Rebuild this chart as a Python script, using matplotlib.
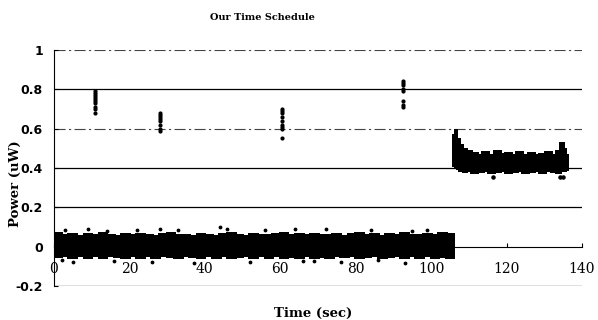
import numpy as np
import matplotlib
matplotlib.use('Agg')
import matplotlib.pyplot as plt

# dense band 0..106 s (envelope, every 2 s)
band1_t = [1, 3, 5, 7, 9, 11, 13, 15, 17, 19, 21, 23, 25, 27, 29, 31, 33, 35,
           37, 39, 41, 43, 45, 47, 49, 51, 53, 55, 57, 59, 61, 63, 65, 67, 69, 71,
           73, 75, 77, 79, 81, 83, 85, 87, 89, 91, 93, 95, 97, 99, 101, 103, 105]
band1_hi = [0.07, 0.06, 0.068, 0.058, 0.066, 0.06, 0.07, 0.062, 0.058, 0.066, 0.06, 0.068,
            0.062, 0.057, 0.066, 0.07, 0.06, 0.064, 0.058, 0.067, 0.06, 0.055, 0.065, 0.07,
            0.062, 0.058, 0.068, 0.063, 0.06, 0.067, 0.07, 0.062, 0.068, 0.06, 0.066, 0.064,
            0.06, 0.068, 0.058, 0.065, 0.07, 0.062, 0.066, 0.058, 0.068, 0.062, 0.07, 0.064,
            0.06, 0.068, 0.062, 0.07, 0.066]
band1_lo = [-0.055, -0.05, -0.06, -0.048, -0.058, -0.052, -0.06, -0.05, -0.056, -0.06, -0.05, -0.058,
            -0.052, -0.06, -0.05, -0.055, -0.06, -0.048, -0.056, -0.06, -0.05, -0.058, -0.052, -0.06,
            -0.055, -0.05, -0.06, -0.052, -0.058, -0.05, -0.06, -0.055, -0.06, -0.05, -0.058, -0.055,
            -0.06, -0.05, -0.057, -0.052, -0.06, -0.054, -0.05, -0.06, -0.056, -0.05, -0.06, -0.052,
            -0.058, -0.05, -0.06, -0.055, -0.058]

# outlier dots around the band
out1_t = [3, 9, 14, 22, 28, 33, 44, 46, 56, 64, 72, 84, 95, 99,
          2, 5, 16, 26, 37, 52, 66, 69, 76, 86, 93]
out1_v = [0.085, 0.09, 0.08, 0.085, 0.09, 0.085, 0.1, 0.09, 0.085, 0.09, 0.09, 0.085, 0.08, 0.085,
          -0.07, -0.08, -0.075, -0.08, -0.085, -0.08, -0.075, -0.075, -0.08, -0.07, -0.085]

# second band 106..136 s
band2_t = [106.1, 106.6, 107.2, 108, 109, 110, 111.5, 113, 114.5, 116, 117.5, 119, 120.5,
           122, 123.5, 125, 126.5, 128, 129.5, 131, 132.5, 133.8, 134.7, 135.5, 136.1]
band2_hi = [0.57, 0.595, 0.55, 0.52, 0.5, 0.49, 0.48, 0.47, 0.485, 0.47, 0.49, 0.475,
            0.48, 0.47, 0.485, 0.47, 0.48, 0.47, 0.475, 0.485, 0.47, 0.49, 0.53, 0.5, 0.47]
band2_lo = [0.41, 0.40, 0.39, 0.38, 0.375, 0.38, 0.37, 0.375, 0.38, 0.37, 0.375, 0.38,
            0.37, 0.375, 0.38, 0.37, 0.375, 0.38, 0.37, 0.38, 0.375, 0.37, 0.38, 0.38, 0.385]
out2_t = [116.5, 134.2, 135.0]
out2_v = [0.355, 0.355, 0.355]

# sparse spikes
spike_t = [10.9] * 10 + [28.1] * 8 + [60.4] * 9 + [92.5] * 8
spike_v = [0.79, 0.78, 0.77, 0.76, 0.75, 0.74, 0.73, 0.71, 0.70, 0.68,
           0.68, 0.67, 0.66, 0.65, 0.64, 0.62, 0.60, 0.59,
           0.70, 0.69, 0.68, 0.66, 0.64, 0.62, 0.61, 0.60, 0.55,
           0.84, 0.83, 0.82, 0.80, 0.79, 0.74, 0.72, 0.71]

x_ticks = [0, 20, 40, 60, 80, 100, 120, 140]
y_ticks = [-0.2, 0, 0.2, 0.4, 0.6, 0.8, 1.0]
y_labels = ['-0.2', '0', '0.2', '0.4', '0.6', '0.8', '1']

fig = plt.figure(figsize=(5.98, 3.2), dpi=100)
ax = fig.add_axes([54 / 598, 34 / 320, 528 / 598, 236 / 320])

# grid lines (scanned look: some solid, some broken)
for y in y_ticks:
    if y == 0:
        continue
    if y in (1.0, 0.6):
        ax.axhline(y, color='#444444', lw=0.8, ls=(0, (10, 3, 2, 3)), zorder=1)
    else:
        ax.axhline(y, color='black', lw=0.9, zorder=1)

# the dense clouds of samples, drawn as overlapping blocks between the envelopes
b1_lo = np.array(band1_lo)
b1_h = np.array(band1_hi) - b1_lo
ax.bar(band1_t, b1_h, bottom=b1_lo, width=2.6, color='black', edgecolor='none',
       lw=0, snap=False, antialiased=False, zorder=3)
b2_lo = np.array(band2_lo)
b2_h = np.array(band2_hi) - b2_lo
b2_w = np.gradient(np.array(band2_t)) * 1.4
ax.bar(band2_t, b2_h, bottom=b2_lo, width=b2_w, color='black', edgecolor='none',
       lw=0, snap=False, antialiased=False, zorder=3)

ax.scatter(out1_t, out1_v, s=3, color='black', zorder=3)
ax.scatter(out2_t, out2_v, s=5, color='black', zorder=3)
ax.scatter(spike_t, spike_v, s=4, color='black', zorder=3)

ax.set_xlim(0, 140)
ax.set_ylim(-0.2, 1.0)
ax.spines['top'].set_visible(False)
ax.spines['right'].set_visible(False)
ax.spines['bottom'].set_position(('data', 0))
ax.spines['bottom'].set_linewidth(0.8)
ax.spines['left'].set_linewidth(0.8)

ax.set_xticks(x_ticks)
ax.set_xticklabels([str(v) for v in x_ticks], family='DejaVu Serif', fontsize=10)
ax.set_yticks(y_ticks)
ax.set_yticklabels(y_labels, family='DejaVu Sans', fontweight='bold', fontsize=9)
ax.tick_params(axis='x', direction='in', length=3, pad=11)
ax.tick_params(axis='y', direction='in', length=3, pad=8)

fig.text(262 / 598, 1 - 17 / 320, 'Our Time Schedule', ha='center', va='center',
         family='DejaVu Serif', fontweight='bold', fontsize=7)
fig.text(313 / 598, 1 - 313 / 320, 'Time (sec)', ha='center', va='center',
         family='DejaVu Serif', fontweight='bold', fontsize=9.5)
fig.text(15 / 598, 1 - 184 / 320, 'Power (uW)', ha='center', va='center', rotation=90,
         family='DejaVu Serif', fontweight='bold', fontsize=9.5)

plt.savefig('out.png', dpi=100)
